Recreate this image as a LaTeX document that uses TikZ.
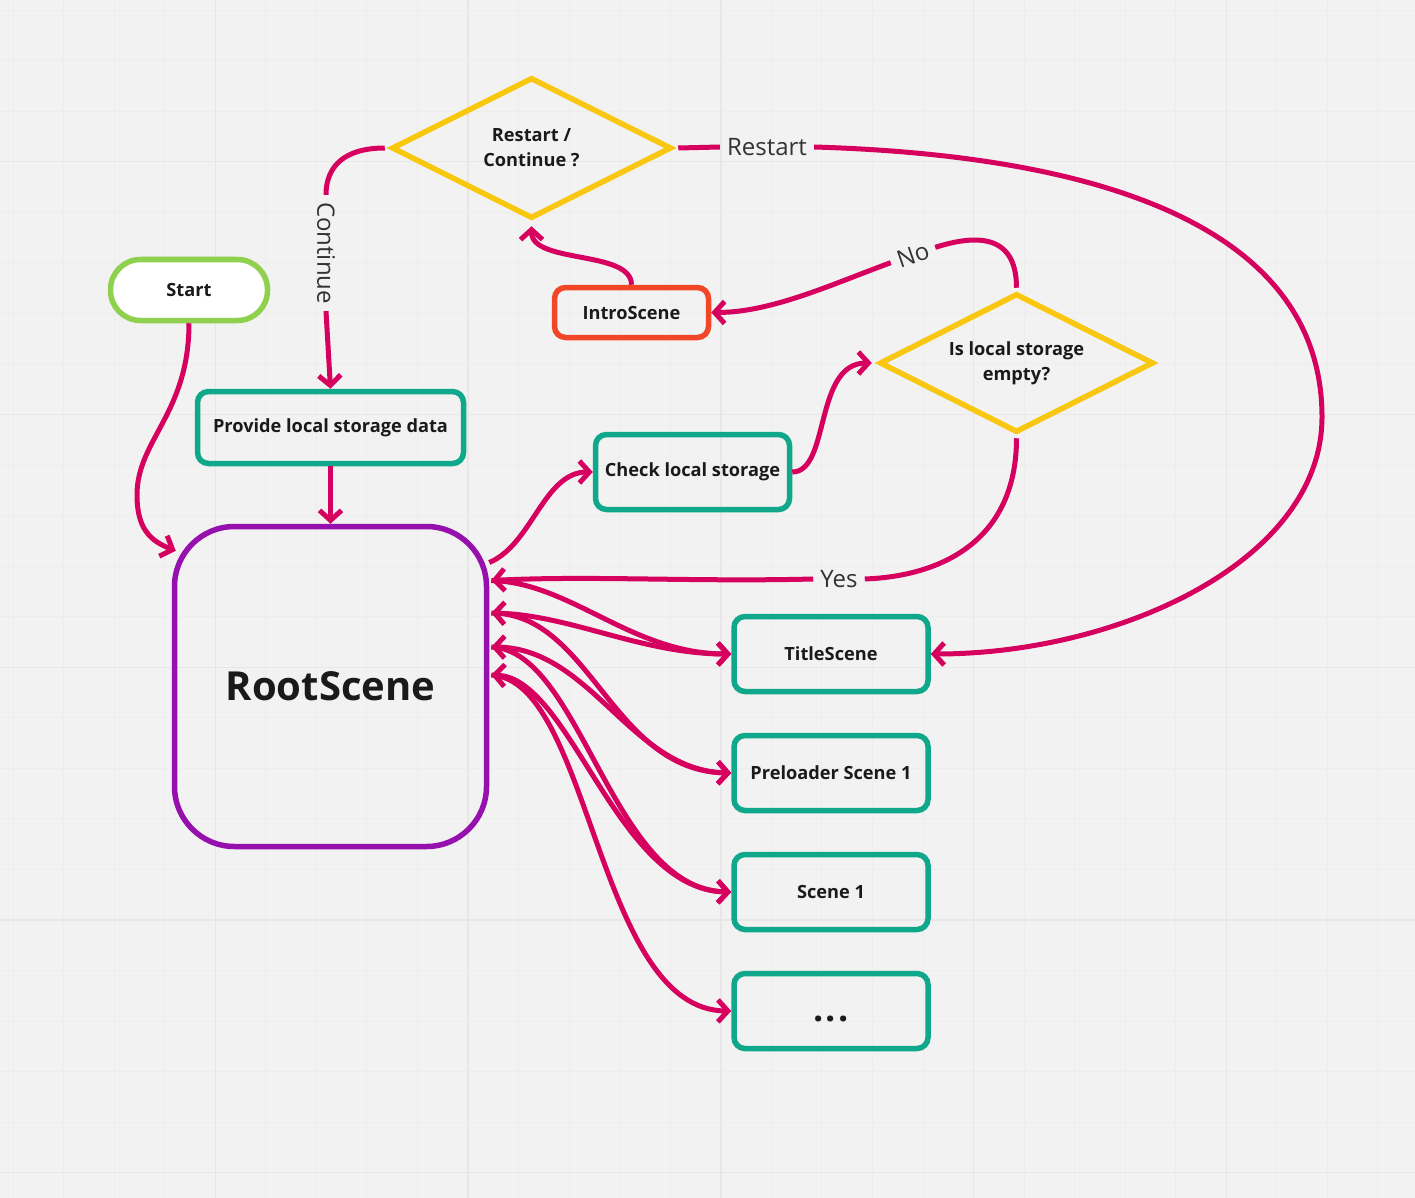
\documentclass[tikz,border=0pt]{standalone}
\usepackage{fontspec}
\setmainfont{Open Sans}
\usetikzlibrary{arrows.meta,shapes.geometric,calc}
\definecolor{cbg}{HTML}{F2F2F2}
\definecolor{cgridminor}{HTML}{EDEDED}
\definecolor{cgridmajor}{HTML}{E7E7E7}
\definecolor{cconn}{HTML}{D6005F}
\definecolor{cteal}{HTML}{0FA88A}
\definecolor{cgreen}{HTML}{8FD14F}
\definecolor{cpurple}{HTML}{9510AC}
\definecolor{corange}{HTML}{F24726}
\definecolor{cyellow}{HTML}{FAC710}
\definecolor{ctext}{HTML}{1A1A1A}
\definecolor{clabel}{HTML}{333333}
\newcommand{\boxfont}{\fontsize{18.2}{25}\selectfont\bfseries}
\newcommand{\lblfont}{\fontsize{24}{28}\selectfont}
\begin{document}
\begin{tikzpicture}[x=1pt,y=-1pt,
  box/.style={draw=cteal, line width=5.5pt, rounded corners=11pt, minimum width=194pt, minimum height=75pt, inner sep=0pt, font=\boxfont, text=ctext},
  decision/.style={diamond, aspect=2, draw=cyellow, line width=5.5pt, inner sep=0pt, font=\boxfont, text=ctext, align=center, minimum height=141pt},
  lbl/.style={font=\lblfont, text=clabel, inner sep=0pt, inner xsep=7pt},
  barb/.tip={Straight Barb[length=10pt,width=22pt]},
  link/.style={draw=cconn, line width=5pt, -barb},
  linkboth/.style={draw=cconn, line width=5pt, barb-barb},
  plainlink/.style={draw=cconn, line width=5pt}]
% background and grid
\fill[cbg] (0,0) rectangle (1415,1198);
\useasboundingbox (0,0) rectangle (1415,1198);
\foreach \i in {0,...,27} {\pgfmathsetmacro\xx{13.1+\i*50.55}\draw[cgridminor, line width=1pt] (\xx,0) -- (\xx,1198);}
\foreach \i in {0,...,23} {\pgfmathsetmacro\yy{10.05+\i*50.55}\draw[cgridminor, line width=1pt] (0,\yy) -- (1415,\yy);}
\foreach \i in {0,...,4} {\pgfmathsetmacro\xx{215.3+\i*252.75}\draw[cgridmajor, line width=1.4pt] (\xx,0) -- (\xx,1198);}
\foreach \i in {0,...,4} {\pgfmathsetmacro\yy{161.7+\i*252.75}\draw[cgridmajor, line width=1.4pt] (0,\yy) -- (1415,\yy);}

% nodes
\node[draw=cgreen, fill=white, line width=5.5pt, rounded corners=30pt, minimum width=157pt, minimum height=61pt, inner sep=0pt, font=\boxfont, text=ctext] (start) at (189,290) {Start};
\node[box, minimum width=266pt, minimum height=72pt] (provide) at (330.5,427.5) {Provide local storage data};
\node[draw=cpurple, line width=5.5pt, rounded corners=60pt, minimum width=312pt, minimum height=320pt, inner sep=0pt, font=\fontsize{40}{46}\selectfont\bfseries, text=ctext] (root) at (330.5,686.5) {RootScene};
\node[decision, minimum width=280pt] (restart) at (531.5,148) {Restart /\\Continue ?};
\node[box, draw=corange, minimum width=154pt, minimum height=50pt] (intro) at (631.5,312.5) {IntroScene};
\node[decision, minimum width=274pt, minimum height=139pt] (isempty) at (1016.5,363) {Is local storage\\empty?};
\node[box] (check) at (692.5,472) {Check local storage};
\node[box] (title) at (831,654) {TitleScene};
\node[box] (preload) at (831,773) {Preloader Scene 1};
\node[box] (scene) at (831,892) {Scene 1};
\node[box, font=\fontsize{36}{40}\selectfont\bfseries, text height=20pt, text depth=0pt] (more) at (831,1011) {.\kern2pt.\kern2pt.};

% labels
\node[lbl] (restartlbl) at (767,147) {Restart};
\node[lbl, rotate=-90] (contlbl) at (326,253) {Continue};
\node[lbl, rotate=19] (nolbl) at (913,255) {No};
\node[lbl] (yeslbl) at (839,579) {Yes};

% coordinates
\coordinate (startbend) at (137,495);
\coordinate (loopR) at (1322,417);

% connectors
\draw[link] (start.south) .. controls +(0,90) and +(0,-55) .. (startbend) .. controls +(0,33) and +(-26,-10) .. ([shift={(4,27)}]root.north west);
\draw[plainlink] ([shift={(-4,0)}]restart.west) .. controls +(-41,0) and +(0,-28) .. (contlbl.west);
\draw[link] (contlbl.east) -- (provide.north);
\draw[link] (provide.south) -- (root.north);
\draw[link] (intro.north) .. controls +(0,-35) and +(0,38) .. ([shift={(0,5)}]restart.south);
\draw[plainlink] ([shift={(4,0)}]restart.east) -- (restartlbl.west);
\draw[link] (restartlbl.east) .. controls +(335,10) and +(0,-167) .. (loopR) .. controls +(0,143) and +(190,0) .. (title.east);
\draw[link] ([shift={(0,-124)}]root.east) .. controls +(43,-18) and +(-49,0) .. (check.west);
\draw[link] (check.east) .. controls +(38,0) and +(-58,0) .. ([shift={(-5,0)}]isempty.west);
\draw[plainlink] ([shift={(0,-3)}]isempty.north) .. controls +(0,-56) and +(38,-12) .. (nolbl.east);
\draw[link] (nolbl.west) .. controls +(-60,22) and +(60,0) .. (intro.east);
\draw[plainlink] ([shift={(0,3)}]isempty.south) .. controls +(0,100) and +(80,-3) .. (yeslbl.east);
\draw[link] (yeslbl.west) .. controls +(-120,3) and +(100,-5) .. ([shift={(2,-106)}]root.east);
% root to scenes
\draw[link] ([shift={(2,-106)}]root.east) .. controls +(80,2) and +(-100,0) .. (title.west);
\draw[linkboth] ([shift={(2,-73.5)}]root.east) .. controls +(80,2) and +(-90,0) .. (title.west);
\draw[link] ([shift={(2,-73.5)}]root.east) .. controls +(100,0) and +(-120,-2) .. (preload.west);
\draw[linkboth] ([shift={(2,-39.5)}]root.east) .. controls +(100,1) and +(-100,-2) .. (preload.west);
\draw[link] ([shift={(2,-39.5)}]root.east) .. controls +(90,3) and +(-120,-2) .. (scene.west);
\draw[linkboth] ([shift={(2,-11.5)}]root.east) .. controls +(80,3) and +(-115,-2) .. (scene.west);
\draw[link] ([shift={(2,-11.5)}]root.east) .. controls +(100,5) and +(-135,-1) .. (more.west);
\end{tikzpicture}
\end{document}
